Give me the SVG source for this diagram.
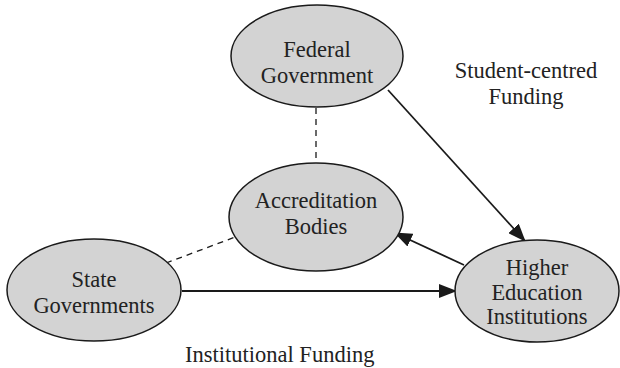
<svg xmlns="http://www.w3.org/2000/svg" width="620" height="368" viewBox="0 0 620 368">
<style>
.node{fill:#d3d3d3;stroke:#1a1a1a;stroke-width:1.5}
.t{font-family:"Liberation Serif",serif;font-size:22.5px;fill:#222;text-anchor:middle}
.c{stroke:#1a1a1a;stroke-width:1.8;fill:none}
.d{stroke:#1a1a1a;stroke-width:1.3;fill:none;stroke-dasharray:6,5}
</style>
<defs>
<marker id="ah" markerWidth="18" markerHeight="14" refX="17" refY="7" orient="auto" markerUnits="userSpaceOnUse" viewBox="0 0 18 14">
<path d="M0,0 L18,7 L0,14 Z" fill="#1a1a1a"/>
</marker>
</defs>
<g id="connectors">
<line class="d" x1="316" y1="108" x2="316" y2="163"/>
<line class="d" x1="166" y1="263" x2="238" y2="236"/>
<line class="c" x1="388" y1="90" x2="525" y2="241" marker-end="url(#ah)"/>
<line class="c" x1="464" y1="265" x2="395" y2="233" marker-end="url(#ah)"/>
<line class="c" x1="182" y1="291" x2="456" y2="291" marker-end="url(#ah)"/>
</g>
<g id="federal">
<ellipse class="node" cx="317" cy="56" rx="86" ry="51"/>
<text class="t" x="317" y="57">Federal</text>
<text class="t" x="317" y="83">Government</text>
</g>
<g id="accreditation">
<ellipse class="node" cx="316" cy="217" rx="87" ry="54"/>
<text class="t" x="316" y="208">Accreditation</text>
<text class="t" x="316" y="234">Bodies</text>
</g>
<g id="state">
<ellipse class="node" cx="94" cy="290" rx="87" ry="51"/>
<text class="t" x="94" y="287">State</text>
<text class="t" x="94" y="313">Governments</text>
</g>
<g id="hei">
<ellipse class="node" cx="537" cy="291" rx="82" ry="51"/>
<text class="t" x="537" y="275">Higher</text>
<text class="t" x="537" y="300">Education</text>
<text class="t" x="537" y="324">Institutions</text>
</g>
<g id="labels">
<text class="t" x="526" y="78">Student-centred</text>
<text class="t" x="526" y="104">Funding</text>
<text class="t" x="185" y="362" style="text-anchor:start">Institutional Funding</text>
</g>
</svg>
